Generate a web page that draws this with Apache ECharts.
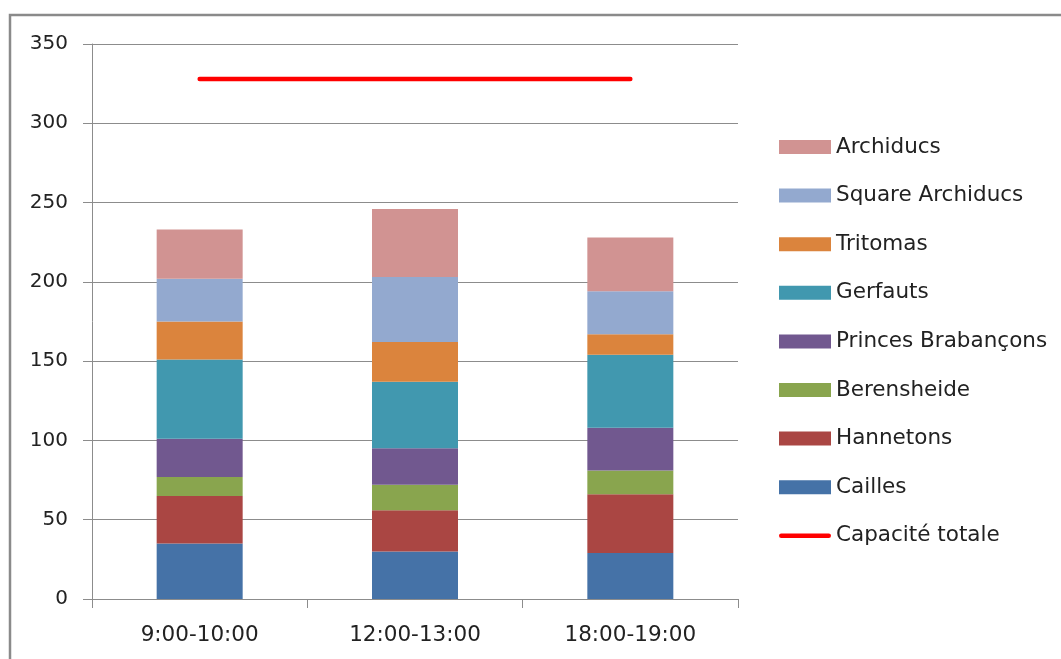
<!DOCTYPE html>
<html>
<head>
<meta charset="utf-8">
<script src="https://cdn.jsdelivr.net/npm/echarts@6/dist/echarts.min.js"></script>
<style>
  html, body { margin: 0; padding: 0; background: #fff; }
  #chart { width: 1061px; height: 659px; }
</style>
</head>
<body>
<div id="chart"></div>
<script>
// Time slots on the x axis
const categories = ['9:00-10:00', '12:00-13:00', '18:00-19:00'];

// Occupancy per group, stacked from bottom to top
const cailles = [35, 30, 29];
const hannetons = [30, 26, 37];
const berensheide = [12, 16, 15];
const princesBrabancons = [24, 23, 27];
const gerfauts = [50, 42, 46];
const tritomas = [24, 25, 13];
const squareArchiducs = [27, 41, 27];
const archiducs = [31, 43, 34];

// Total capacity, drawn as a line across the slots
const capaciteTotale = [328, 328, 328];

// Value axis range
const yMin = 0;
const yMax = 350;
const yStep = 50;

const textColor = '#222';
const axisGray = '#8c8c8c';
const fontFamily = 'DejaVu Sans';

const barGroups = [
  { name: 'Cailles', data: cailles, color: '#4572A7' },
  { name: 'Hannetons', data: hannetons, color: '#AA4643' },
  { name: 'Berensheide', data: berensheide, color: '#89A54E' },
  { name: 'Princes Brabançons', data: princesBrabancons, color: '#71588F' },
  { name: 'Gerfauts', data: gerfauts, color: '#4198AF' },
  { name: 'Tritomas', data: tritomas, color: '#DB843D' },
  { name: 'Square Archiducs', data: squareArchiducs, color: '#93A9CF' },
  { name: 'Archiducs', data: archiducs, color: '#D19392' }
];

const series = barGroups.map(g => ({
  name: g.name,
  type: 'bar',
  stack: 'total',
  data: g.data,
  barWidth: 86,
  itemStyle: { color: g.color },
  emphasis: { disabled: true }
}));

series.push({
  name: 'Capacité totale',
  type: 'line',
  data: capaciteTotale,
  symbol: 'none',
  z: 5,
  lineStyle: { color: '#FF0000', width: 4.5, cap: 'round' },
  itemStyle: { color: '#FF0000' },
  emphasis: { disabled: true }
});

// Legend key for the capacity line: a thin rounded bar centred in a 52x14 box
const lineKeyIcon = 'path://M26,0 L26,14 M2.25,4.75 L49.75,4.75 A2.25,2.25 0 0 1 49.75,9.25 L2.25,9.25 A2.25,2.25 0 0 1 2.25,4.75 Z';

const legendOrder = barGroups.map(g => ({ name: g.name, icon: 'rect' })).reverse()
  .concat([{ name: 'Capacité totale', icon: lineKeyIcon, itemStyle: { color: '#FF0000', borderWidth: 0 } }]);

const chart = echarts.init(document.getElementById('chart'), null, { renderer: 'canvas' });
chart.setOption({
  animation: false,
  backgroundColor: '#fff',
  textStyle: { fontFamily: fontFamily, color: textColor },
  grid: { left: 92, right: 323, top: 44, bottom: 60, containLabel: false },
  graphic: [{
    type: 'rect',
    shape: { x: 10, y: 15, width: 1100, height: 700 },
    style: { fill: 'none', stroke: '#8a8a8a', lineWidth: 2.5 },
    silent: true
  }],
  legend: {
    orient: 'vertical',
    left: 779,
    top: 136,
    padding: 0,
    itemWidth: 52,
    itemHeight: 14,
    itemGap: 26.6,
    selectedMode: false,
    data: legendOrder,
    textStyle: { fontFamily: fontFamily, fontSize: 21.5, lineHeight: 21.5, color: textColor }
  },
  xAxis: {
    type: 'category',
    data: categories,
    boundaryGap: true,
    axisLine: { show: true, lineStyle: { color: axisGray, width: 1 } },
    axisTick: { show: true, alignWithLabel: false, length: 9, lineStyle: { color: axisGray } },
    axisLabel: { fontFamily: fontFamily, fontSize: 21.5, color: textColor, margin: 25 },
    splitLine: { show: false }
  },
  yAxis: {
    type: 'value',
    min: yMin,
    max: yMax,
    interval: yStep,
    axisLine: { show: true, lineStyle: { color: axisGray, width: 1 } },
    axisTick: { show: true, length: 9, lineStyle: { color: axisGray } },
    axisLabel: { fontFamily: fontFamily, fontSize: 20, color: textColor, margin: 24 },
    splitLine: { show: true, lineStyle: { color: axisGray, width: 1 } }
  },
  series: series
});
</script>
</body>
</html>
